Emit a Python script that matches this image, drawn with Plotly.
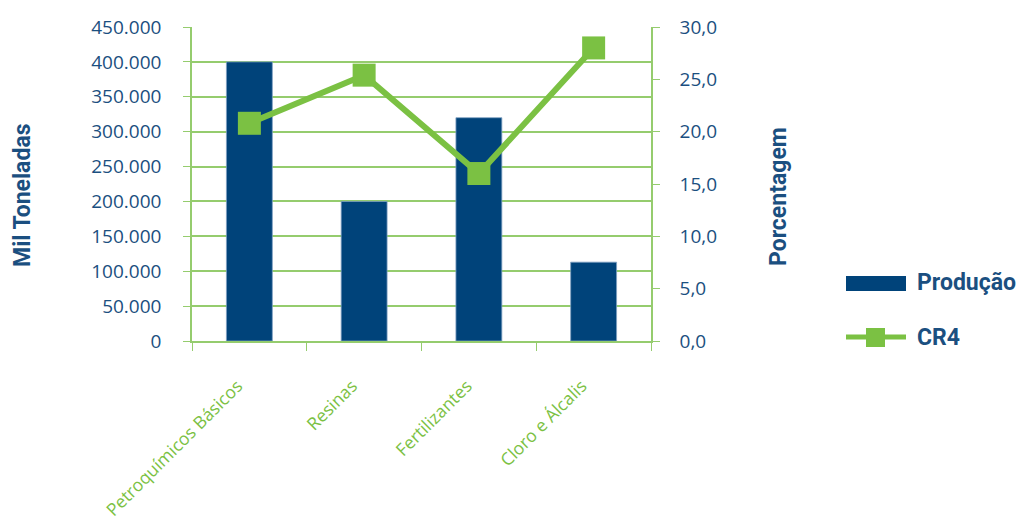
import plotly.graph_objects as go

# Categories and series
categorias = ["Petroquímicos Básicos", "Resinas", "Fertilizantes", "Cloro e Álcalis"]
producao = [400000, 200000, 320000, 113000]   # mil toneladas
cr4 = [20.8, 25.4, 16.0, 28.0]                # porcentagem

y_left_ticks = list(range(0, 450001, 50000))
y_right_ticks = [0, 5, 10, 15, 20, 25, 30]

AZUL = "#00437a"
VERDE = "#7bc143"
VERDE_GRADE = "#95cc6e"
TEXTO = "#1b4f80"
FONTE = "Open Sans, Noto Sans, sans-serif"
FONTE_TITULO = "Roboto, Open Sans, sans-serif"

W, H = 1016, 520
L, R, T, B = 192, 651, 27, 341


def px(x):
    return (x - L) / (R - L)


def py(y):
    return (B - y) / (B - T)


fig = go.Figure()

fig.add_trace(go.Bar(
    x=categorias, y=producao, name="Produção",
    marker=dict(color=AZUL, line=dict(color="#7f9fc2", width=0.8)),
    yaxis="y", showlegend=False,
))

fig.add_trace(go.Scatter(
    x=categorias, y=cr4, name="CR4", mode="lines+markers",
    line=dict(color=VERDE, width=6),
    marker=dict(symbol="square", size=23, color=VERDE),
    yaxis="y2", showlegend=False,
))

fig.update_layout(
    width=W, height=H,
    margin=dict(l=L, r=W - R, t=T, b=H - B),
    paper_bgcolor="white", plot_bgcolor="white",
    separators=",.",
    bargap=0.6,
    font=dict(family=FONTE, color=TEXTO),
    xaxis=dict(
        type="category", range=[-0.5, 3.5], automargin=False,
        showline=True, linecolor=VERDE_GRADE, linewidth=2,
        ticks="outside", tickson="boundaries", ticklen=8, tickcolor=VERDE_GRADE,
        showgrid=False, tickangle=-45, ticklabelstandoff=26, ticklabelshift=-12,
        tickfont=dict(family=FONTE, size=17.5, color=VERDE),
    ),
    yaxis=dict(
        range=[0, 450000], tickvals=y_left_ticks, tickformat=",.0f",
        automargin=False,
        showgrid=True, gridcolor=VERDE_GRADE, gridwidth=1.5,
        showline=True, linecolor=VERDE_GRADE, linewidth=1.5,
        ticks="outside", ticklen=7, tickcolor=VERDE_GRADE,
        zeroline=False, ticklabelstandoff=18,
        tickfont=dict(family=FONTE, size=19, color=TEXTO),
    ),
    yaxis2=dict(
        range=[0, 30], tickvals=y_right_ticks, tickformat=".1f",
        automargin=False,
        overlaying="y", side="right", showgrid=False,
        showline=True, linecolor=VERDE_GRADE, linewidth=1.5,
        ticks="outside", ticklen=7, tickcolor=VERDE_GRADE,
        zeroline=False, ticklabelstandoff=16,
        tickfont=dict(family=FONTE, size=19, color=TEXTO),
    ),
)

# Axis titles
fig.add_annotation(x=px(22), y=py(195), xref="paper", yref="paper",
                   text="<b>Mil Toneladas</b>", textangle=-90, showarrow=False,
                   font=dict(family=FONTE_TITULO, size=23, color=TEXTO),
                   xanchor="center", yanchor="middle")
fig.add_annotation(x=px(778), y=py(197), xref="paper", yref="paper",
                   text="<b>Porcentagem</b>", textangle=-90, showarrow=False,
                   font=dict(family=FONTE_TITULO, size=23, color=TEXTO),
                   xanchor="center", yanchor="middle")

# Legend
fig.add_shape(type="rect", xref="paper", yref="paper",
              x0=px(846), x1=px(906), y0=py(291), y1=py(276),
              fillcolor=AZUL, line=dict(width=0))
fig.add_annotation(x=px(915), y=py(282), xref="paper", yref="paper",
                   text="<b>Produção</b>", showarrow=False,
                   font=dict(family=FONTE_TITULO, size=23, color=TEXTO),
                   xanchor="left", yanchor="middle")
fig.add_shape(type="line", xref="paper", yref="paper",
              x0=px(846), x1=px(906), y0=py(337), y1=py(337),
              line=dict(color=VERDE, width=5))
fig.add_shape(type="rect", xref="paper", yref="paper",
              x0=px(866), x1=px(885), y0=py(347), y1=py(328),
              fillcolor=VERDE, line=dict(width=0))
fig.add_annotation(x=px(915), y=py(337), xref="paper", yref="paper",
                   text="<b>CR4</b>", showarrow=False,
                   font=dict(family=FONTE_TITULO, size=23, color=TEXTO),
                   xanchor="left", yanchor="middle")

fig.write_html("out.html")
